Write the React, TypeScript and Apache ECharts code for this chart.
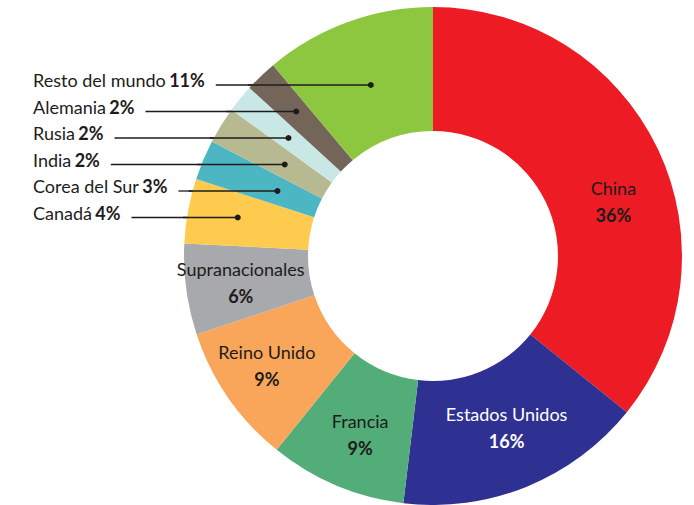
import React, { useEffect, useRef } from 'react';
import * as echarts from 'echarts';

// ---- data ----
const categories = [
  'China', 'Estados Unidos', 'Francia', 'Reino Unido', 'Supranacionales',
  'Canadá', 'Corea del Sur', 'India', 'Rusia', 'Alemania', 'Resto del mundo',
];
const shares = [35.8, 16.1, 8.9, 9.1, 5.9, 4.2, 2.6, 2.4, 1.8, 2.1, 11.1];
const shareLabels = ['36%', '16%', '9%', '9%', '6%', '4%', '3%', '2%', '2%', '2%', '11%'];
const colors = [
  '#ED1C24', '#2E3192', '#52AD78', '#F9A65B', '#A7A9AC',
  '#FFCB4E', '#4CB6C2', '#B7B991', '#C9E8E5', '#736659', '#8DC63F',
];
const insideCount = 5; // first slices carry their label inside

// ---- layout ----
const CX = 433, CY = 256, R0 = 125, R1 = 249;
const FONT = 'Lato, "Noto Sans", sans-serif';
const TEXT = '#1E1B1C';
const ROW_TOP = 85, ROW_STEP = 26.5, TEXT_X = 33, GAP = 11, DOT_R_MAX = 199;
const insideOffsets: Record<number, number[]> = {
  0: [9, 27], 1: [2, -4], 2: [1, 3], 3: [-10, 1], 4: [-4, 1],
};

const total = shares.reduce((a, b) => a + b, 0);
function geomFor(i: number) {
  let cum = 0;
  for (let k = 0; k < i; k++) cum += shares[k];
  const theta = (2 * Math.PI * (cum + shares[i] / 2)) / total;
  const row = categories.length - 1 - i;
  const rowY = ROW_TOP + row * ROW_STEP;
  const c = Math.cos(theta);
  const t = c > 0 ? (CY - rowY) / c : Infinity;
  const dy = CY - rowY;
  let dotX: number;
  if (t <= DOT_R_MAX) {
    dotX = CX + t * Math.sin(theta);
  } else {
    dotX = CX - Math.sqrt(DOT_R_MAX * DOT_R_MAX - dy * dy);
  }
  const edgeX = CX - Math.sqrt(R1 * R1 - dy * dy) - 4;
  return { rowY, dotX, edgeX };
}

export default function App() {
  const ref = useRef<HTMLDivElement>(null);
  useEffect(() => {
    if (!ref.current) return;
    const chart = echarts.init(ref.current, undefined, { renderer: 'svg' });
    const geoms: Record<number, { rowY: number; dotX: number; edgeX: number }> = {};
    for (let i = insideCount; i < categories.length; i++) geoms[i] = geomFor(i);

    const rich = {
      n: { fontFamily: FONT, fontSize: 18, color: TEXT, lineHeight: 27 },
      b: { fontFamily: FONT, fontSize: 18, fontWeight: 'bold', color: TEXT, lineHeight: 27 },
      nw: { fontFamily: FONT, fontSize: 18, color: '#FFFFFF', lineHeight: 27 },
      bw: { fontFamily: FONT, fontSize: 18, fontWeight: 'bold', color: '#FFFFFF', lineHeight: 27 },
    };

    const data = categories.map((name, i) => {
      if (i < insideCount) {
        const white = i === 1;
        return {
          name,
          value: shares[i],
          itemStyle: { color: colors[i] },
          label: {
            show: true,
            position: 'inside',
            offset: insideOffsets[i],
            formatter: white
              ? `{nw|${name}}\n{bw|${shareLabels[i]}}`
              : `{n|${name}}\n{b|${shareLabels[i]}}`,
            rich,
          },
          labelLine: { show: false },
        };
      }
      return {
        name,
        value: shares[i],
        itemStyle: { color: colors[i] },
        label: {
          show: true,
          position: 'outside',
          formatter: `{n|${name}} {b|${shareLabels[i]}}`,
          rich,
        },
        labelLine: { show: true, smooth: false, lineStyle: { color: TEXT, width: 1.3 } },
      };
    });

    const overlay: any[] = [];
    Object.keys(geoms).forEach((k) => {
      const g = geoms[Number(k)];
      overlay.push({
        type: 'line',
        shape: { x1: g.edgeX, y1: g.rowY, x2: g.dotX, y2: g.rowY },
        style: { stroke: TEXT, lineWidth: 1.3 },
        z: 100,
      });
      overlay.push({
        type: 'circle',
        shape: { cx: g.dotX, cy: g.rowY, r: 3 },
        style: { fill: TEXT },
        z: 101,
      });
    });

    chart.setOption({
      animation: false,
      backgroundColor: '#FFFFFF',
      series: [
        {
          type: 'pie',
          center: [CX, CY],
          radius: [R0, R1],
          startAngle: 90,
          clockwise: true,
          avoidLabelOverlap: false,
          silent: true,
          itemStyle: { borderWidth: 0 },
          data,
          labelLayout: (p: any) => {
            const i = p.dataIndex;
            if (i < insideCount) return {};
            const g = geoms[i];
            const w = p.labelRect.width;
            return {
              x: TEXT_X,
              y: g.rowY - 5,
              align: 'left',
              verticalAlign: 'middle',
              labelLinePoints: [
                [g.edgeX + 6, g.rowY],
                [g.edgeX + 6, g.rowY],
                [TEXT_X + w + GAP, g.rowY],
              ],
            };
          },
        },
      ],
      graphic: overlay,
    });
    return () => chart.dispose();
  }, []);
  return (
    <div
      ref={ref}
      style={{ position: 'absolute', left: 0, top: 0, width: 694, height: 505 }}
    />
  );
}
